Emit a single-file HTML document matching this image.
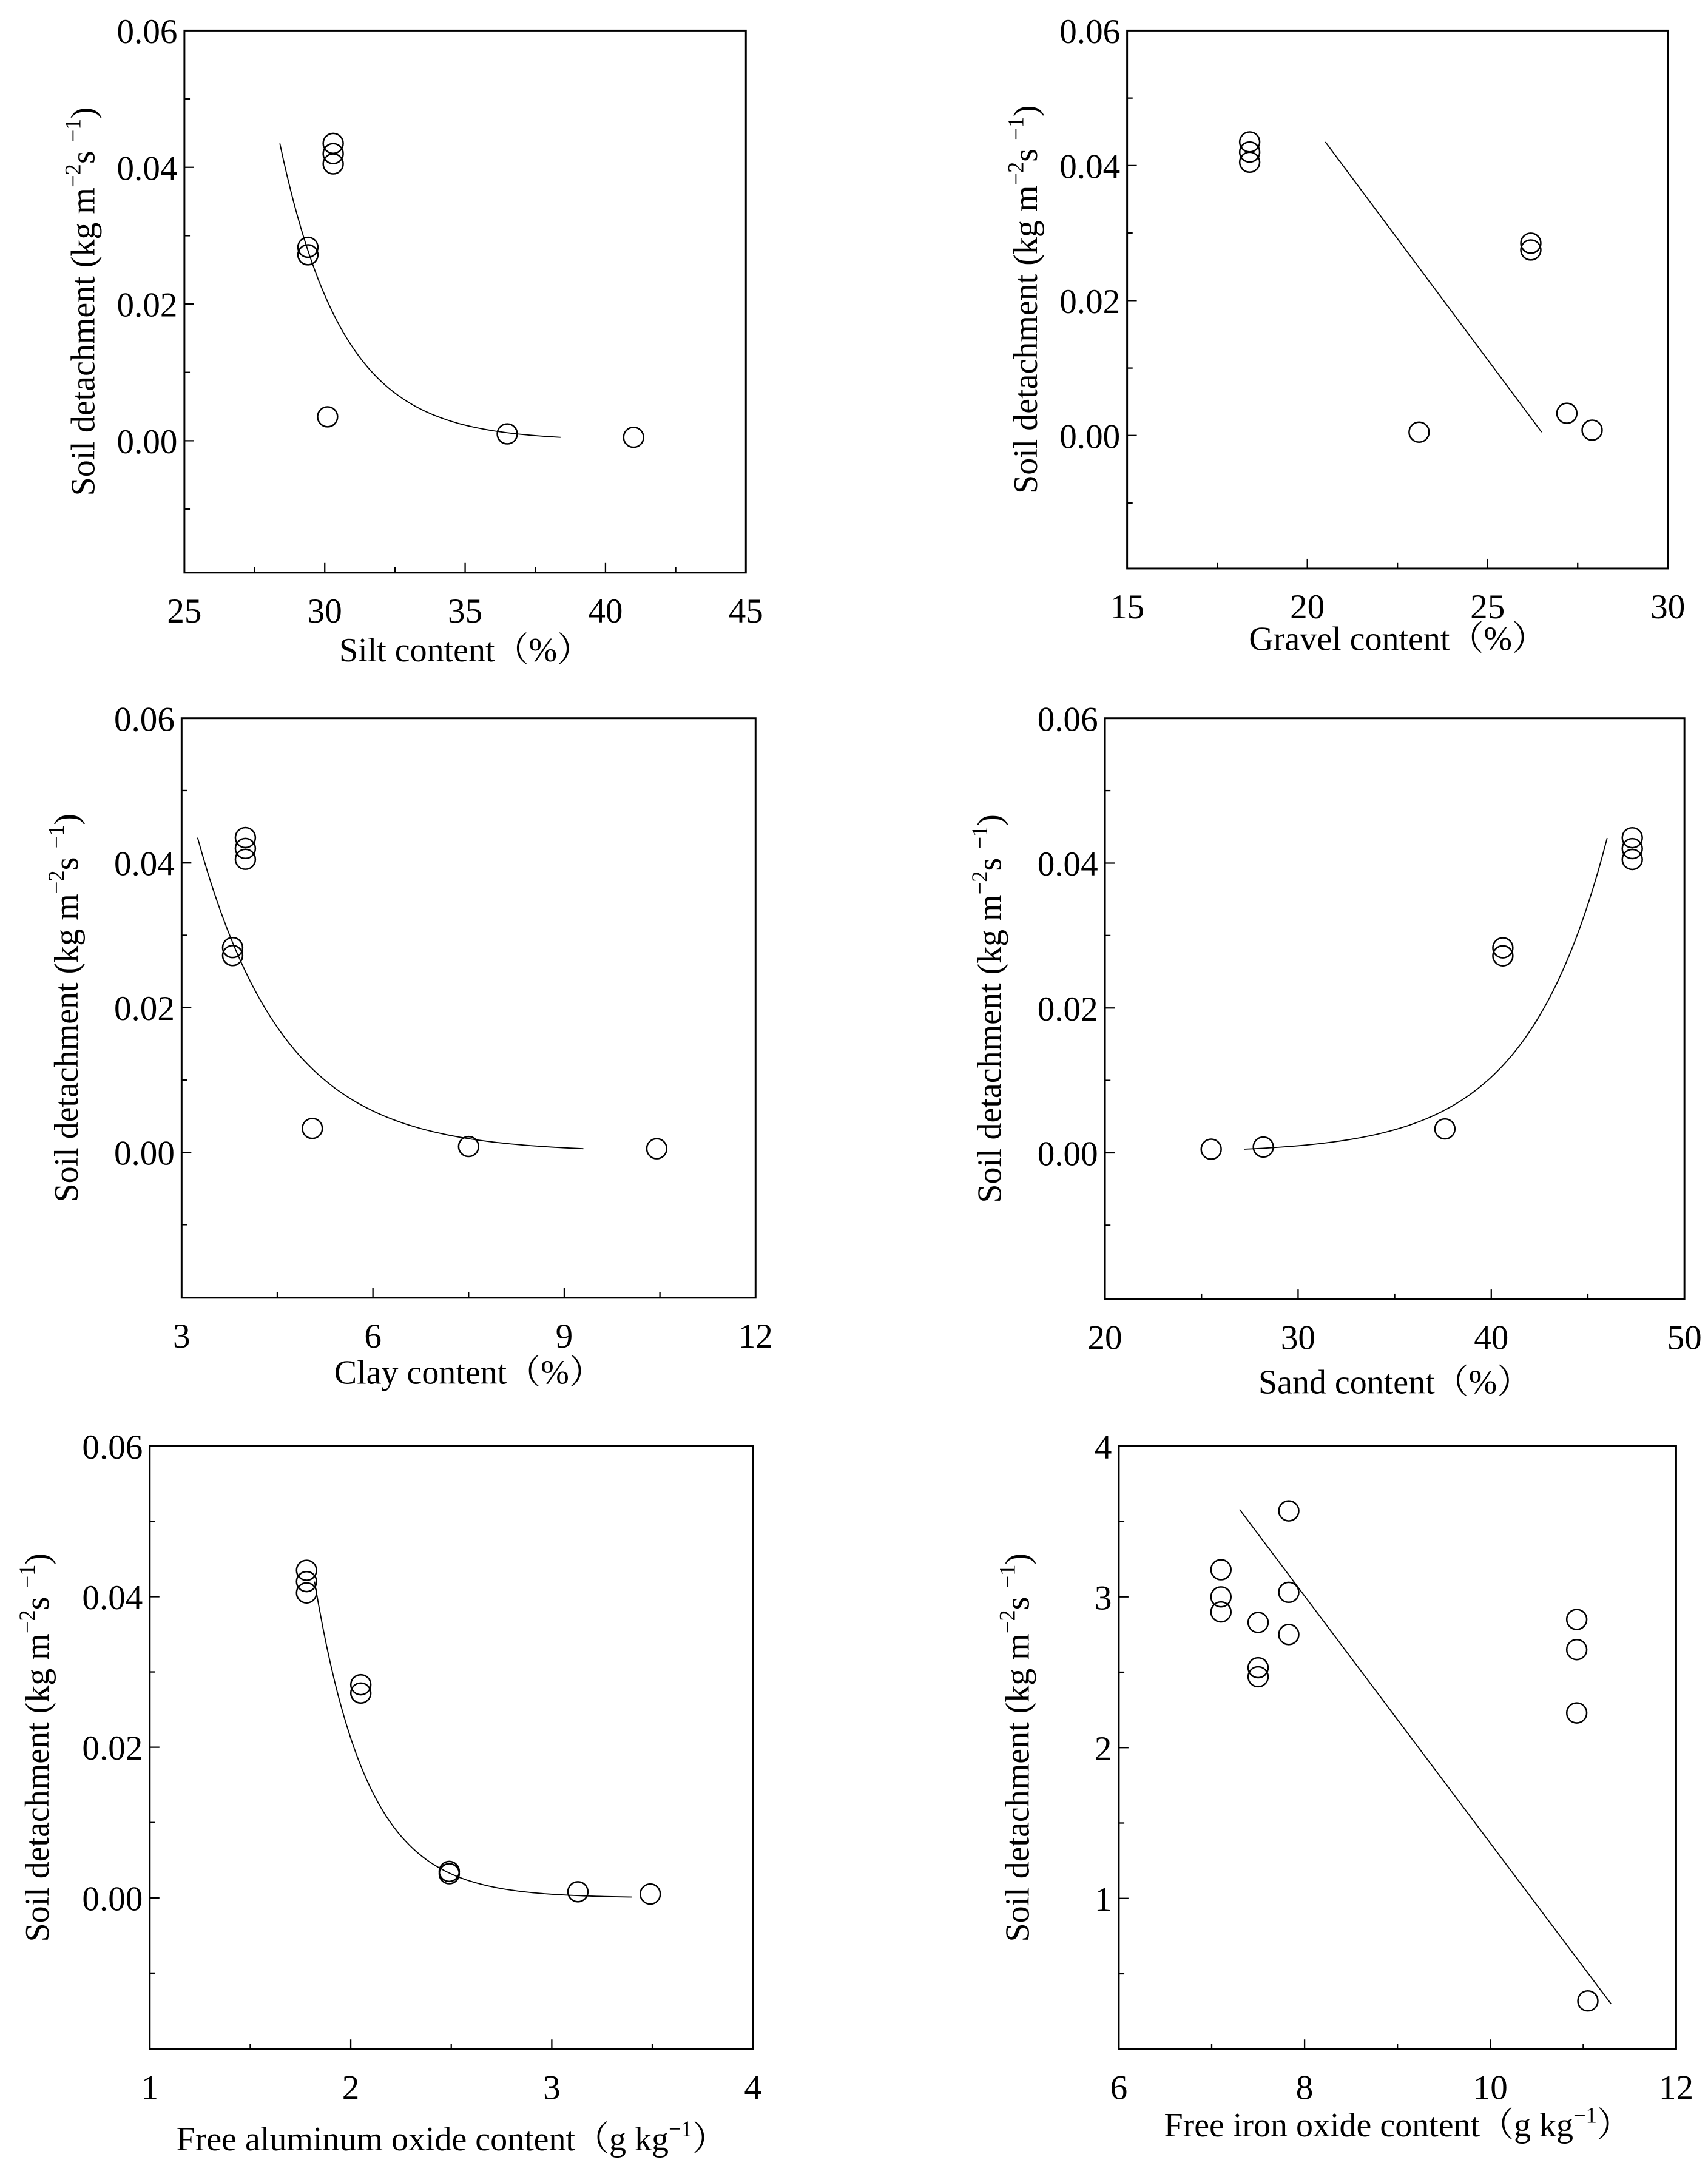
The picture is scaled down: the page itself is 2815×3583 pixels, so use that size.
<!DOCTYPE html>
<html><head><meta charset="utf-8"><style>
html,body{margin:0;padding:0;background:#fff}
svg{display:block}
text{font-family:"Liberation Serif",serif;fill:#000}
.cjk{font-family:"Noto Serif CJK SC","Noto Sans CJK SC",serif}
</style></head><body>
<svg id="fig" width="2815" height="3583" viewBox="0 0 1232 1568" xmlns="http://www.w3.org/2000/svg"></svg>
<script>
// ---- data arrays ----
const silt_x=[30.3,30.3,30.3,29.4,29.4,30.1,36.5,41.0];
const silt_y=[0.0405,0.042,0.0435,0.0272,0.0283,0.0035,0.001,0.0005];
const silt_fit=[28.4,38.4,0.0435,0.4466]; // x0,x1,a,b  (decay)
const gravel_x=[18.4,18.4,18.4,26.2,26.2,23.1,27.2,27.9];
const gravel_y=[0.0405,0.042,0.0435,0.0275,0.0285,0.0005,0.0033,0.0008];
const gravel_fit=[20.5,0.0435,26.5,0.0005];
const clay_x=[4.0,4.0,4.0,3.8,3.8,5.05,7.5,10.45];
const clay_y=[0.0405,0.042,0.0435,0.0272,0.0283,0.0033,0.0008,0.0005];
const clay_fit=[3.25,9.3,0.0435,0.738];
const sand_x=[47.3,47.3,47.3,40.6,40.6,37.6,28.2,25.5];
const sand_y=[0.0405,0.042,0.0435,0.0272,0.0283,0.0033,0.0008,0.0005];
const sand_fit=[27.2,46.0,0.0005,0.2375]; // growth
const al_x=[1.78,1.78,1.78,2.05,2.05,2.49,2.49,3.13,3.49];
const al_y=[0.0405,0.042,0.0435,0.0272,0.0283,0.0032,0.0035,0.0008,0.0005];
const al_fit=[1.82,3.4,0.042,3.8];
const fe_x=[7.1,7.1,7.1,7.5,7.5,7.5,7.83,7.83,7.83,10.93,10.93,10.93,11.05];
const fe_y=[3.18,3.0,2.9,2.83,2.53,2.47,3.57,3.03,2.75,2.85,2.65,2.23,0.32];
const fe_fit=[7.3,3.58,11.3,0.3];
const detTicks=["0.00","0.02","0.04","0.06"];
const feTicks=["1","2","3","4"];

const NS="http://www.w3.org/2000/svg";
const svg=document.getElementById('fig');
function el(tag,attrs,parent){const e=document.createElementNS(NS,tag);for(const k in attrs)e.setAttribute(k,attrs[k]);(parent||svg).appendChild(e);return e;}
const FF='Liberation Serif, serif';
function panel(o){
  const g=el('g',{});
  
  
  const sx=v=>o.L+(v-o.xmin)/(o.xmax-o.xmin)*(o.R-o.L);
  const sy=v=>o.B-(v-o.ymin)/(o.ymax-o.ymin)*(o.B-o.T);
  const fr=el('rect',{x:o.L,y:o.T,width:o.R-o.L,height:o.B-o.T,fill:'none',stroke:'#000','stroke-width':1.3},g);
  
  
  o.xt.forEach((v,i)=>{
    const x=sx(v);
    el('line',{x1:x,x2:x,y1:o.B,y2:o.B-7,stroke:'#000','stroke-width':1},g);
    const t=el('text',{x:x,y:o.B+36,'font-size':25,'text-anchor':'middle','font-family':FF},g);
    t.textContent=o.xl[i];
    
    
  });
  o.xm.forEach(v=>{const x=sx(v);el('line',{x1:x,x2:x,y1:o.B,y2:o.B-4,stroke:'#000','stroke-width':1},g);});
  o.yt.forEach((v,i)=>{
    const y=sy(v);
    el('line',{x1:o.L,x2:o.L+7,y1:y,y2:y,stroke:'#000','stroke-width':1},g);
    const t=el('text',{x:o.L-5,y:y+9,'font-size':25,'text-anchor':'end','font-family':FF},g);
    t.textContent=o.yl[i];
    
    
  });
  o.ym.forEach(v=>{const y=sy(v);el('line',{x1:o.L,x2:o.L+4,y1:y,y2:y,stroke:'#000','stroke-width':1},g);});
  let d='';
  if(o.fitType==='line'){
    d='M'+sx(o.fit[0])+','+sy(o.fit[1])+'L'+sx(o.fit[2])+','+sy(o.fit[3]);
  }else{
    const [x0,x1,a,b]=o.fit;
    for(let i=0;i<=80;i++){
      const x=x0+(x1-x0)*i/80;
      const y=o.fitType==='decay'?a*Math.exp(-b*(x-x0)):a*Math.exp(b*(x-x0));
      d+=(i?'L':'M')+sx(x).toFixed(2)+','+sy(y).toFixed(2);
    }
  }
  const p=el('path',{d:d,fill:'none',stroke:'#000','stroke-width':0.8},g);
  
  
  o.px.forEach((v,i)=>{
    const c=el('circle',{cx:sx(v),cy:sy(o.py[i]),r:7.2,fill:'none',stroke:'#000','stroke-width':1.1},g);
    
    
  });
  const cy=(o.T+o.B)/2;
  const yt=el('text',{x:0,y:0,'font-size':24.5,'text-anchor':'middle','font-family':FF,transform:`translate(${o.ytx},${cy}) rotate(-90)`},g);
  yt.innerHTML=o.ytitle;
  
  
  const xt=el('text',{x:(o.L+o.R)/2,y:o.xty,'font-size':24.5,'text-anchor':'middle','font-family':FF},g);
  xt.innerHTML=o.xtitle;
  
  
}
const YT='Soil detachment (kg m<tspan font-size="16" dy="-10">−2</tspan><tspan dy="10">s </tspan><tspan font-size="16" dy="-10">−1</tspan><tspan dy="10">)</tspan>';
const LP='<tspan class="cjk">（</tspan>', RP='<tspan class="cjk">）</tspan>';
const GK='<tspan font-size="16" dy="-10">−1</tspan><tspan dy="10" class="cjk">）</tspan>';
const detYt=[0,0.02,0.04,0.06], detYm=[-0.01,0.01,0.03,0.05];

panel({name:'silt-panel',L:133,R:538,T:22,B:413,xmin:25,xmax:45,ymin:-0.0193,ymax:0.06,
  xt:[25,30,35,40,45],xl:["25","30","35","40","45"],xm:[27.5,32.5,37.5,42.5],
  yt:detYt,yl:detTicks,ym:detYm,px:silt_x,py:silt_y,fit:silt_fit,fitType:'decay',
  ytx:68,xty:477,ytitle:YT,xtitle:'Silt content'+LP+'%'+RP});
panel({name:'gravel-panel',L:813,R:1203,T:22,B:410,xmin:15,xmax:30,ymin:-0.0197,ymax:0.06,
  xt:[15,20,25,30],xl:["15","20","25","30"],xm:[17.5,22.5,27.5],
  yt:detYt,yl:detTicks,ym:detYm,px:gravel_x,py:gravel_y,fit:gravel_fit,fitType:'line',
  ytx:748,xty:469,ytitle:YT,xtitle:'Gravel content'+LP+'%'+RP});
panel({name:'clay-panel',L:131,R:545,T:518,B:936,xmin:3,xmax:12,ymin:-0.0201,ymax:0.06,
  xt:[3,6,9,12],xl:["3","6","9","12"],xm:[4.5,7.5,10.5],
  yt:detYt,yl:detTicks,ym:detYm,px:clay_x,py:clay_y,fit:clay_fit,fitType:'decay',
  ytx:56,xty:998,ytitle:YT,xtitle:'Clay content'+LP+'%'+RP});
panel({name:'sand-panel',L:797,R:1215,T:518,B:937,xmin:20,xmax:50,ymin:-0.0202,ymax:0.06,
  xt:[20,30,40,50],xl:["20","30","40","50"],xm:[25,35,45],
  yt:detYt,yl:detTicks,ym:detYm,px:sand_x,py:sand_y,fit:sand_fit,fitType:'growth',
  ytx:722,xty:1005,ytitle:YT,xtitle:'Sand content'+LP+'%'+RP});
panel({name:'aluminum-panel',L:108,R:543,T:1043,B:1478,xmin:1,xmax:4,ymin:-0.0201,ymax:0.06,
  xt:[1,2,3,4],xl:["1","2","3","4"],xm:[1.5,2.5,3.5],
  yt:detYt,yl:detTicks,ym:detYm,px:al_x,py:al_y,fit:al_fit,fitType:'decay',
  ytx:35,xty:1551,ytitle:YT,xtitle:'Free aluminum oxide content'+LP+'g kg'+GK});
panel({name:'iron-panel',L:807,R:1209,T:1043,B:1478,xmin:6,xmax:12,ymin:0,ymax:4,
  xt:[6,8,10,12],xl:["6","8","10","12"],xm:[7,9,11],
  yt:[1,2,3,4],yl:feTicks,ym:[0.5,1.5,2.5,3.5],px:fe_x,py:fe_y,fit:fe_fit,fitType:'line',
  ytx:742,xty:1541,ytitle:YT,xtitle:'Free iron oxide content'+LP+'g kg'+GK});
</script>
</body></html>
